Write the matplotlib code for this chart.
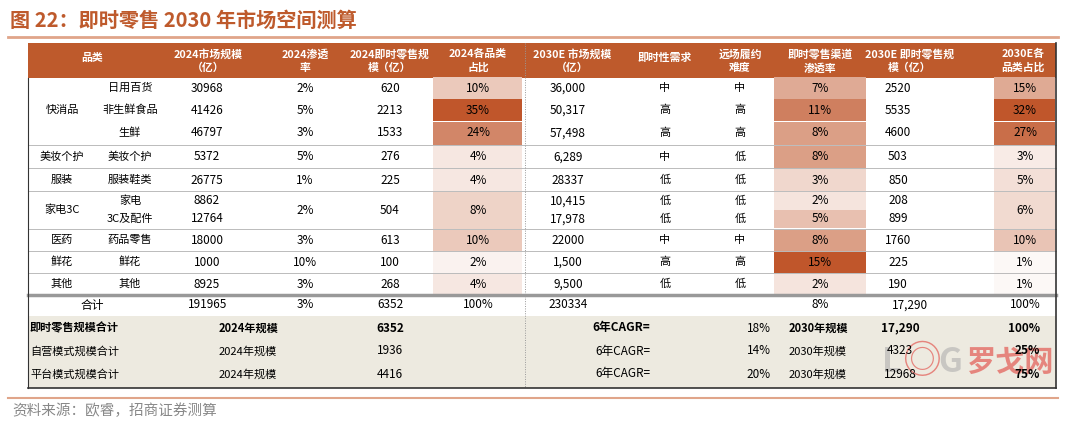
import matplotlib.pyplot as plt
from matplotlib.patches import Rectangle
from matplotlib.colors import LinearSegmentedColormap

plt.rcParams['font.family'] = ['Noto Sans CJK SC', 'DejaVu Sans']

ORANGE = "#BE5A2C"
title = "图 22：即时零售 2030 年市场空间测算"
source = "资料来源：欧睿，招商证券测算"

headers = ["品类", "2024市场规模\n（亿）", "2024渗透\n率", "2024即时零售规\n模（亿）", "2024各品类\n占比",
           "2030E 市场规模\n（亿）", "即时性需求", "远场履约\n难度", "即时零售渠道\n渗透率",
           "2030E 即时零售规\n模（亿）", "2030E各\n品类占比"]

groups = ["快消品", "快消品", "快消品", "美妆个护", "服装", "家电3C", "家电3C", "医药", "鲜花", "其他"]
subcats = ["日用百货", "非生鲜食品", "生鲜", "美妆个护", "服装鞋类", "家电", "3C及配件", "药品零售", "鲜花", "其他"]
mkt_2024 = ["30968", "41426", "46797", "5372", "26775", "8862", "12764", "18000", "1000", "8925"]
pen_2024 = ["2%", "5%", "3%", "5%", "1%", "", "", "3%", "10%", "3%"]
ir_2024 = ["620", "2213", "1533", "276", "225", "", "", "613", "100", "268"]
share_2024 = [10, 35, 24, 4, 4, None, None, 10, 2, 4]
mkt_2030 = ["36,000", "50,317", "57,498", "6,289", "28337", "10,415", "17,978", "22000", "1,500", "9,500"]
need = ["中", "高", "高", "中", "低", "低", "低", "中", "高", "低"]
diff = ["中", "高", "高", "低", "低", "低", "低", "中", "高", "低"]
pen_2030 = [7, 11, 8, 8, 3, 2, 5, 8, 15, 2]
ir_2030 = ["2520", "5535", "4600", "503", "850", "208", "899", "1760", "225", "190"]
share_2030 = [15, 32, 27, 3, 5, None, None, 10, 1, 1]

total_row = ["合计", "191965", "3%", "6352", "100%", "230334", "8%", "17,290", "100%"]
sum_labels = ["即时零售规模合计", "自营模式规模合计", "平台模式规模合计"]
sum_2024 = ["6352", "1936", "4416"]
sum_cagr = ["18%", "14%", "20%"]
sum_2030 = ["17,290", "4323", "12968"]
sum_share = ["100%", "25%", "75%"]

fig = plt.figure(figsize=(10.8, 4.24), dpi=100)
ax = fig.add_axes([0, 0, 1, 1])
ax.set_xlim(0, 1080)
ax.set_ylim(424, 0)
ax.axis("off")

ax.text(10, 20, title, fontsize=14.5, fontweight="bold", color=ORANGE, va="center")
ax.plot([8, 1058], [37, 37], color="#E0A58A", lw=2)

L, R = 28, 1056
ax.add_patch(Rectangle((L, 43), R - L, 35, color=ORANGE, lw=0))
hx = [92, 208, 305, 390, 478, 572, 665, 740, 820, 910, 1023]
for x, h in zip(hx, headers):
    ax.text(x, 61 if "\n" in h else 58, h, ha="center", va="center", color="white",
            fontsize=7.8, fontweight="bold", linespacing=1.4)

row_y = [88, 110, 133, 157, 180, 201, 219, 240, 262, 284]
row_h = [22, 22, 23, 23, 22, 18, 18, 21, 22, 22]
cmap = LinearSegmentedColormap.from_list("o", ["#FFFFFF", "#C0562B"])


def col(v, vmax):
    return cmap(min(v / vmax, 1) ** 0.9)


def shade(xl, xr, vals, vmax):
    for i, v in enumerate(vals):
        if v is None:
            continue
        ax.add_patch(Rectangle((xl, row_y[i] - row_h[i] / 2), xr - xl, row_h[i],
                               color=col(v, vmax), lw=0))


shade(433, 522, share_2024, 35)
shade(774, 866, pen_2030, 15)
shade(994, 1055, share_2030, 32)
# merged 家电3C share cells
ax.add_patch(Rectangle((433, 192), 89, 37, color=col(8, 35), lw=0))
ax.add_patch(Rectangle((994, 192), 61, 37, color=col(6, 32), lw=0))

fs = 8.5
for i, y in enumerate(row_y):
    ax.text(130, y, subcats[i], ha="center", va="center", fontsize=8)
    ax.text(207, y, mkt_2024[i], ha="center", va="center", fontsize=fs)
    ax.text(305, y, pen_2024[i], ha="center", va="center", fontsize=fs)
    ax.text(390, y, ir_2024[i], ha="center", va="center", fontsize=fs)
    if share_2024[i] is not None:
        ax.text(478, y, f"{share_2024[i]}%", ha="center", va="center", fontsize=fs)
    ax.text(568, y, mkt_2030[i], ha="center", va="center", fontsize=fs)
    ax.text(665, y, need[i], ha="center", va="center", fontsize=8)
    ax.text(740, y, diff[i], ha="center", va="center", fontsize=8)
    ax.text(820, y, f"{pen_2030[i]}%", ha="center", va="center", fontsize=fs)
    ax.text(898, y, ir_2030[i], ha="center", va="center", fontsize=fs)
    if share_2030[i] is not None:
        ax.text(1025, y, f"{share_2030[i]}%", ha="center", va="center", fontsize=fs)

# merged group labels and values
for name, y in [("快消品", 110), ("美妆个护", 157), ("服装", 180), ("家电3C", 210),
                ("医药", 240), ("鲜花", 262), ("其他", 284)]:
    ax.text(62, y, name, ha="center", va="center", fontsize=8)
ax.text(305, 210, "2%", ha="center", va="center", fontsize=fs)
ax.text(390, 210, "504", ha="center", va="center", fontsize=fs)
ax.text(478, 210, "8%", ha="center", va="center", fontsize=fs)
ax.text(1025, 210, "6%", ha="center", va="center", fontsize=fs)

for y in [145, 168, 191, 229, 251, 273]:
    ax.plot([L, R], [y, y], color="#BBBBBB", lw=0.7)
ax.plot([L, R], [295, 295], color="#999999", lw=2.5)
ax.plot([525, 525], [43, 388], color="#999999", lw=0.7, ls=(0, (1, 1.5)))
ax.plot([R, R], [43, 388], color="#333333", lw=1.2)
ax.plot([L, L], [78, 388], color="#333333", lw=0.8)

tx = [92, 208, 305, 390, 478, 568, 820, 910, 1025]
for x, t in zip(tx, total_row):
    ax.text(x, 305, t, ha="center", va="center", fontsize=fs)

ax.add_patch(Rectangle((L, 316), R - L, 72, color="#EDEAE0", lw=0))

# watermark (behind the summary texts)
wm = dict(va="center", alpha=0.55, zorder=2)
ax.text(882, 362, "L", fontsize=24, color="#AAAAAA", fontweight="bold", **wm)
ax.text(902, 362, "◎", fontsize=28, color="#E0322D", **wm)
ax.text(938, 362, "G", fontsize=24, color="#AAAAAA", fontweight="bold", **wm)
ax.text(966, 362, "罗戈网", fontsize=21, color="#E0322D", fontweight="bold", **wm)

sum_y = [328, 351, 374]
for i, y in enumerate(sum_y):
    bold = "bold" if i == 0 else "normal"
    ax.text(30, y, sum_labels[i], ha="left", va="center", fontsize=8, fontweight=bold)
    ax.text(248, y, "2024年规模", ha="center", va="center", fontsize=8, fontweight=bold)
    ax.text(390, y, sum_2024[i], ha="center", va="center", fontsize=fs, fontweight=bold)
    ax.text(650, y, "6年CAGR=", ha="right", va="center", fontsize=fs, fontweight=bold)
    ax.text(771, y, sum_cagr[i], ha="right", va="center", fontsize=fs)
    ax.text(818, y, "2030年规模", ha="center", va="center", fontsize=8, fontweight=bold)
    ax.text(900, y, sum_2030[i], ha="center", va="center", fontsize=fs, fontweight=bold)
    ax.text(1040, y, sum_share[i], ha="right", va="center", fontsize=fs, fontweight="bold")
ax.plot([L, R], [388, 388], color="#333333", lw=1.2)

ax.plot([8, 1058], [398, 398], color="#E0A58A", lw=1.5)
ax.text(12, 411, source, fontsize=10.5, color="#888888", va="center")

fig.savefig("out.png", dpi=100)
